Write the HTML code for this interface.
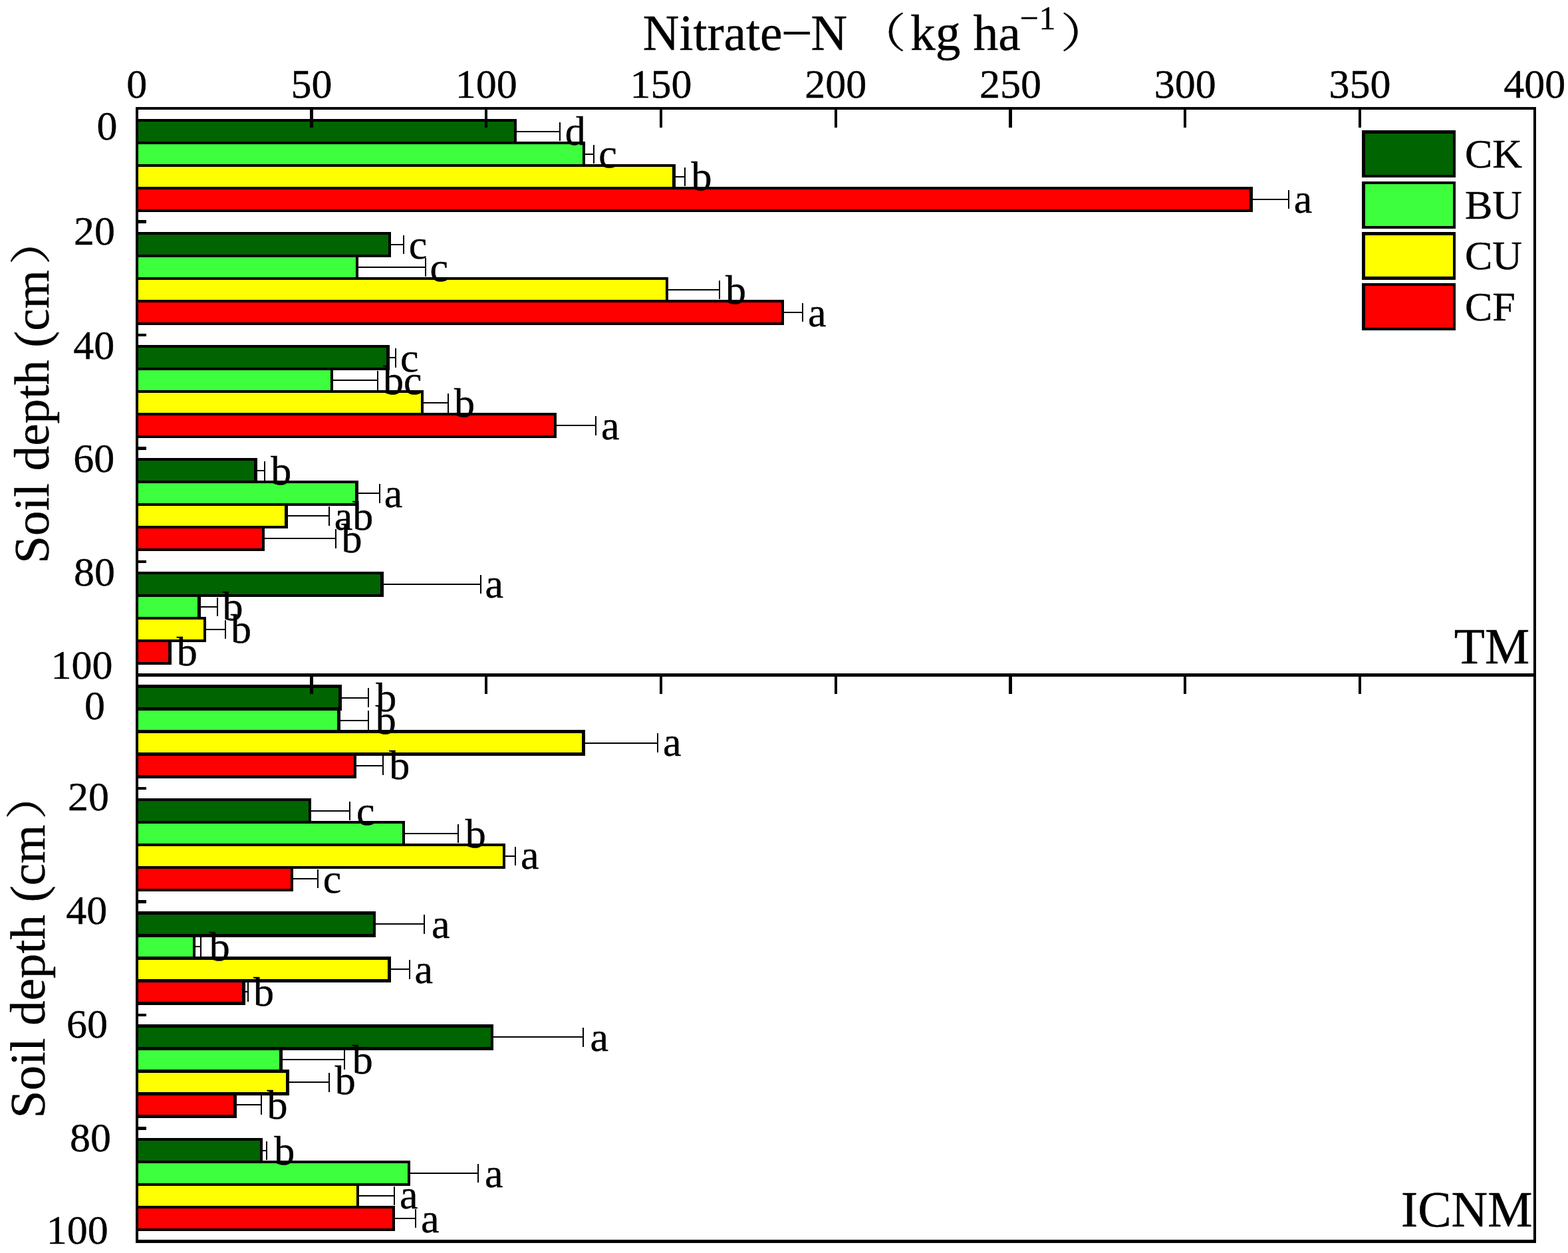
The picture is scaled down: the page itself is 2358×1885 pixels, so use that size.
<!DOCTYPE html>
<html lang="en"><head><meta charset="utf-8"><title>Nitrate-N by soil depth</title>
<style>html,body{margin:0;padding:0;background:#fff}body{width:2358px;height:1885px;overflow:hidden}svg{display:block}text{font-family:"Liberation Serif","Noto Serif CJK SC",serif;fill:#000;stroke:#000;stroke-width:0.4px}rect,path{shape-rendering:crispEdges}.t,.l,.lg{font-size:62px}.ax,.pn{font-size:75.6px}.sup{font-size:50px}.ay{font-size:75px}.b{stroke:#000;stroke-width:4.4px;stroke-linejoin:miter}.e{stroke:#000;stroke-width:2px;fill:none}.k{stroke:#000;stroke-width:4.4px;fill:none;stroke-linecap:butt}</style></head><body>
<svg width="2358" height="1885" viewBox="0 0 2358 1885">
<rect x="0" y="0" width="2358" height="1885" fill="#fff"/>
<g id="bars-TM">
<rect class="b" x="206.00" y="180.75" width="568.70" height="34.00" fill="#006400"/>
<rect class="b" x="206.00" y="214.75" width="671.80" height="34.00" fill="#3DFF3D"/>
<rect class="b" x="206.00" y="248.75" width="807.40" height="34.00" fill="#FFFF00"/>
<rect class="b" x="206.00" y="282.75" width="1675.70" height="34.00" fill="#FF0000"/>
<rect class="b" x="206.00" y="350.90" width="379.70" height="34.00" fill="#006400"/>
<rect class="b" x="206.00" y="384.90" width="330.80" height="34.00" fill="#3DFF3D"/>
<rect class="b" x="206.00" y="418.90" width="796.80" height="34.00" fill="#FFFF00"/>
<rect class="b" x="206.00" y="452.90" width="970.80" height="34.00" fill="#FF0000"/>
<rect class="b" x="206.00" y="521.30" width="377.50" height="34.00" fill="#006400"/>
<rect class="b" x="206.00" y="555.30" width="292.70" height="34.00" fill="#3DFF3D"/>
<rect class="b" x="206.00" y="589.30" width="428.80" height="34.00" fill="#FFFF00"/>
<rect class="b" x="206.00" y="623.30" width="628.80" height="34.00" fill="#FF0000"/>
<rect class="b" x="206.00" y="691.30" width="178.40" height="34.00" fill="#006400"/>
<rect class="b" x="206.00" y="725.30" width="330.50" height="34.00" fill="#3DFF3D"/>
<rect class="b" x="206.00" y="759.30" width="224.60" height="34.00" fill="#FFFF00"/>
<rect class="b" x="206.00" y="793.30" width="190.20" height="34.00" fill="#FF0000"/>
<rect class="b" x="206.00" y="861.70" width="368.60" height="34.00" fill="#006400"/>
<rect class="b" x="206.00" y="895.70" width="93.60" height="34.00" fill="#3DFF3D"/>
<rect class="b" x="206.00" y="929.70" width="101.70" height="34.00" fill="#FFFF00"/>
<rect class="b" x="206.00" y="963.70" width="49.40" height="34.00" fill="#FF0000"/>
</g>
<g id="err-TM">
<path class="e" d="M774.70 197.75H842.10M842.10 183.55V211.95"/>
<path class="e" d="M877.80 231.75H893.00M893.00 217.55V245.95"/>
<path class="e" d="M1013.40 265.75H1030.30M1030.30 251.55V279.95"/>
<path class="e" d="M1881.70 299.75H1938.20M1938.20 285.55V313.95"/>
<path class="e" d="M585.70 367.90H606.90M606.90 353.70V382.10"/>
<path class="e" d="M536.80 401.90H640.10M640.10 387.70V416.10"/>
<path class="e" d="M1002.80 435.90H1082.00M1082.00 421.70V450.10"/>
<path class="e" d="M1176.80 469.90H1207.10M1207.10 455.70V484.10"/>
<path class="e" d="M583.50 538.30H594.90M594.90 524.10V552.50"/>
<path class="e" d="M498.70 572.30H567.90M567.90 558.10V586.50"/>
<path class="e" d="M634.80 606.30H673.80M673.80 592.10V620.50"/>
<path class="e" d="M834.80 640.30H896.00M896.00 626.10V654.50"/>
<path class="e" d="M384.40 708.30H398.00M398.00 694.10V722.50"/>
<path class="e" d="M536.50 742.30H571.00M571.00 728.10V756.50"/>
<path class="e" d="M430.60 776.30H494.90M494.90 762.10V790.50"/>
<path class="e" d="M396.20 810.30H504.90M504.90 796.10V824.50"/>
<path class="e" d="M574.60 878.70H722.90M722.90 864.50V892.90"/>
<path class="e" d="M299.60 912.70H327.30M327.30 898.50V926.90"/>
<path class="e" d="M307.70 946.70H339.00M339.00 932.50V960.90"/>
</g>
<g id="bars-ICNM">
<rect class="b" x="206.00" y="1032.55" width="305.60" height="34.00" fill="#006400"/>
<rect class="b" x="206.00" y="1066.55" width="303.50" height="34.00" fill="#3DFF3D"/>
<rect class="b" x="206.00" y="1100.55" width="671.60" height="34.00" fill="#FFFF00"/>
<rect class="b" x="206.00" y="1134.55" width="327.70" height="34.00" fill="#FF0000"/>
<rect class="b" x="206.00" y="1203.00" width="259.80" height="34.00" fill="#006400"/>
<rect class="b" x="206.00" y="1237.00" width="400.80" height="34.00" fill="#3DFF3D"/>
<rect class="b" x="206.00" y="1271.00" width="551.70" height="34.00" fill="#FFFF00"/>
<rect class="b" x="206.00" y="1305.00" width="232.70" height="34.00" fill="#FF0000"/>
<rect class="b" x="206.00" y="1373.30" width="356.70" height="34.00" fill="#006400"/>
<rect class="b" x="206.00" y="1407.30" width="85.80" height="34.00" fill="#3DFF3D"/>
<rect class="b" x="206.00" y="1441.30" width="379.60" height="34.00" fill="#FFFF00"/>
<rect class="b" x="206.00" y="1475.30" width="160.50" height="34.00" fill="#FF0000"/>
<rect class="b" x="206.00" y="1543.30" width="533.90" height="34.00" fill="#006400"/>
<rect class="b" x="206.00" y="1577.30" width="216.60" height="34.00" fill="#3DFF3D"/>
<rect class="b" x="206.00" y="1611.30" width="226.50" height="34.00" fill="#FFFF00"/>
<rect class="b" x="206.00" y="1645.30" width="147.50" height="34.00" fill="#FF0000"/>
<rect class="b" x="206.00" y="1713.90" width="186.80" height="34.00" fill="#006400"/>
<rect class="b" x="206.00" y="1747.90" width="408.70" height="34.00" fill="#3DFF3D"/>
<rect class="b" x="206.00" y="1781.90" width="331.80" height="34.00" fill="#FFFF00"/>
<rect class="b" x="206.00" y="1815.90" width="385.80" height="34.00" fill="#FF0000"/>
</g>
<g id="err-ICNM">
<path class="e" d="M511.60 1049.55H554.00M554.00 1035.35V1063.75"/>
<path class="e" d="M509.50 1083.55H554.00M554.00 1069.35V1097.75"/>
<path class="e" d="M877.60 1117.55H989.00M989.00 1103.35V1131.75"/>
<path class="e" d="M533.70 1151.55H576.00M576.00 1137.35V1165.75"/>
<path class="e" d="M465.80 1220.00H526.00M526.00 1205.80V1234.20"/>
<path class="e" d="M606.80 1254.00H689.10M689.10 1239.80V1268.20"/>
<path class="e" d="M757.70 1288.00H775.00M775.00 1273.80V1302.20"/>
<path class="e" d="M438.70 1322.00H478.00M478.00 1307.80V1336.20"/>
<path class="e" d="M562.70 1390.30H637.90M637.90 1376.10V1404.50"/>
<path class="e" d="M291.80 1424.30H301.90M301.90 1410.10V1438.50"/>
<path class="e" d="M585.60 1458.30H616.10M616.10 1444.10V1472.50"/>
<path class="e" d="M366.50 1492.30H372.90M372.90 1478.10V1506.50"/>
<path class="e" d="M739.90 1560.30H877.10M877.10 1546.10V1574.50"/>
<path class="e" d="M422.60 1594.30H518.00M518.00 1580.10V1608.50"/>
<path class="e" d="M432.50 1628.30H495.10M495.10 1614.10V1642.50"/>
<path class="e" d="M353.50 1662.30H393.00M393.00 1648.10V1676.50"/>
<path class="e" d="M392.80 1730.90H400.90M400.90 1716.70V1745.10"/>
<path class="e" d="M614.70 1764.90H718.90M718.90 1750.70V1779.10"/>
<path class="e" d="M537.80 1798.90H593.00M593.00 1784.70V1813.10"/>
<path class="e" d="M591.80 1832.90H625.00M625.00 1818.70V1847.10"/>
</g>
<g id="axes">
<path class="k" style="stroke-width:4.5px" d="M204.00 163.00H2310.00M206.00 1015.60H2308.00M204.00 1867.60H2310.00"/>
<path class="k" style="stroke-width:4px" d="M206.00 163.00V1867.60M2308.00 163.00V1867.60"/>
<path class="k" d="M468.45 163.00V191.80M468.45 1015.60V1044.40M731.20 163.00V191.80M731.20 1015.60V1044.40M993.95 163.00V191.80M993.95 1015.60V1044.40M1256.70 163.00V191.80M1256.70 1015.60V1044.40M1519.45 163.00V191.80M1519.45 1015.60V1044.40M1782.20 163.00V191.80M1782.20 1015.60V1044.40M2044.95 163.00V191.80M2044.95 1015.60V1044.40M206.00 333.50H220.00M206.00 504.00H220.00M206.00 674.50H220.00M206.00 845.00H220.00M206.00 1186.10H220.00M206.00 1356.60H220.00M206.00 1527.10H220.00M206.00 1697.60H220.00"/>
</g>
<g id="sig-TM">
<text class="l" x="849.70" y="218.35">d</text>
<text class="l" x="900.20" y="252.35">c</text>
<text class="l" x="1039.50" y="286.35">b</text>
<text class="l" x="1945.70" y="320.35">a</text>
<text class="l" x="614.80" y="388.50">c</text>
<text class="l" x="646.50" y="422.50">c</text>
<text class="l" x="1090.90" y="456.50">b</text>
<text class="l" x="1215.00" y="490.50">a</text>
<text class="l" x="601.90" y="558.90">c</text>
<text class="l" x="576.00" y="592.90">bc</text>
<text class="l" x="683.10" y="626.90">b</text>
<text class="l" x="903.90" y="660.90">a</text>
<text class="l" x="407.20" y="728.90">b</text>
<text class="l" x="577.80" y="762.90">a</text>
<text class="l" x="502.70" y="796.90">ab</text>
<text class="l" x="513.40" y="830.90">b</text>
<text class="l" x="729.50" y="899.30">a</text>
<text class="l" x="334.50" y="933.30">b</text>
<text class="l" x="347.00" y="967.30">b</text>
<text class="l" x="265.70" y="1001.30">b</text>
</g>
<g id="sig-ICNM">
<text class="l" x="565.30" y="1070.15">b</text>
<text class="l" x="564.80" y="1104.15">b</text>
<text class="l" x="996.90" y="1137.15">a</text>
<text class="l" x="585.30" y="1172.15">b</text>
<text class="l" x="535.90" y="1240.60">c</text>
<text class="l" x="699.70" y="1274.60">b</text>
<text class="l" x="782.90" y="1307.10">a</text>
<text class="l" x="485.80" y="1342.60">c</text>
<text class="l" x="648.90" y="1410.90">a</text>
<text class="l" x="314.80" y="1444.90">b</text>
<text class="l" x="623.60" y="1478.90">a</text>
<text class="l" x="381.10" y="1512.90">b</text>
<text class="l" x="887.40" y="1580.90">a</text>
<text class="l" x="529.80" y="1614.90">b</text>
<text class="l" x="503.70" y="1645.60">b</text>
<text class="l" x="401.60" y="1682.90">b</text>
<text class="l" x="412.20" y="1751.50">b</text>
<text class="l" x="728.90" y="1785.50">a</text>
<text class="l" x="600.90" y="1817.50">a</text>
<text class="l" x="632.90" y="1854.10">a</text>
</g>
<g id="xticks">
<text class="t" text-anchor="middle" x="205.70" y="147.20">0</text>
<text class="t" text-anchor="middle" x="468.45" y="147.20">50</text>
<text class="t" text-anchor="middle" x="731.20" y="147.20">100</text>
<text class="t" text-anchor="middle" x="993.95" y="147.20">150</text>
<text class="t" text-anchor="middle" x="1256.70" y="147.20">200</text>
<text class="t" text-anchor="middle" x="1519.45" y="147.20">250</text>
<text class="t" text-anchor="middle" x="1782.20" y="147.20">300</text>
<text class="t" text-anchor="middle" x="2044.95" y="147.20">350</text>
<text class="t" text-anchor="middle" x="2307.70" y="147.20">400</text>
</g>
<g id="yticks">
<text class="t" text-anchor="end" x="176.50" y="210.20">0</text>
<text class="t" text-anchor="end" x="172.90" y="367.70">20</text>
<text class="t" text-anchor="end" x="172.20" y="539.50">40</text>
<text class="t" text-anchor="end" x="172.20" y="709.90">60</text>
<text class="t" text-anchor="end" x="172.90" y="881.20">80</text>
<text class="t" text-anchor="end" x="169.60" y="1020.90">100</text>
<text class="t" text-anchor="end" x="158.10" y="1081.60">0</text>
<text class="t" text-anchor="end" x="164.00" y="1219.00">20</text>
<text class="t" text-anchor="end" x="161.20" y="1390.00">40</text>
<text class="t" text-anchor="end" x="162.00" y="1560.60">60</text>
<text class="t" text-anchor="end" x="167.10" y="1732.40">80</text>
<text class="t" text-anchor="end" x="162.70" y="1870.80">100</text>
</g>
<text id="title" class="ax"><tspan x="966.8" y="74.60">Nitrate</tspan><tspan x="1174.7" textLength="47.2" lengthAdjust="spacingAndGlyphs">−</tspan><tspan x="1219.5">N </tspan><tspan x="1289.12" y="71.75" font-size="62" textLength="73.6" lengthAdjust="spacingAndGlyphs">（</tspan><tspan x="1369.0" y="74.60">kg ha</tspan><tspan class="sup" x="1533.5" y="43.8">−</tspan><tspan class="sup" x="1562.5" y="43.8">1</tspan><tspan x="1594.88" y="71.75" font-size="62" textLength="73.6" lengthAdjust="spacingAndGlyphs">）</tspan></text>
<text class="ay" transform="translate(73.00 847.80) rotate(-90)"><tspan x="0" y="0">Soil depth (cm</tspan><tspan x="449.38" y="-3.85" font-size="62" textLength="73.6" lengthAdjust="spacingAndGlyphs">）</tspan></text>
<text class="ay" transform="translate(67.30 1682.30) rotate(-90)"><tspan x="0" y="0">Soil depth (cm</tspan><tspan x="449.38" y="-3.85" font-size="62" textLength="73.6" lengthAdjust="spacingAndGlyphs">）</tspan></text>
<text class="pn" text-anchor="end" x="2300.2" y="998.4">TM</text>
<text class="pn" text-anchor="end" x="2304.4" y="1844.8">ICNM</text>
<g id="legend">
<rect class="b" style="stroke-width:4.4px" x="2050.30" y="198.30" width="136.50" height="66.90" fill="#006400"/>
<text class="lg" x="2203.00" y="252.05">CK</text>
<rect class="b" style="stroke-width:4.4px" x="2050.30" y="274.95" width="136.50" height="66.90" fill="#3DFF3D"/>
<text class="lg" x="2203.00" y="328.70">BU</text>
<rect class="b" style="stroke-width:4.4px" x="2050.30" y="351.60" width="136.50" height="66.90" fill="#FFFF00"/>
<text class="lg" x="2203.00" y="405.35">CU</text>
<rect class="b" style="stroke-width:4.4px" x="2050.30" y="428.25" width="136.50" height="66.90" fill="#FF0000"/>
<text class="lg" x="2203.00" y="482.00">CF</text>
</g>
</svg></body></html>
